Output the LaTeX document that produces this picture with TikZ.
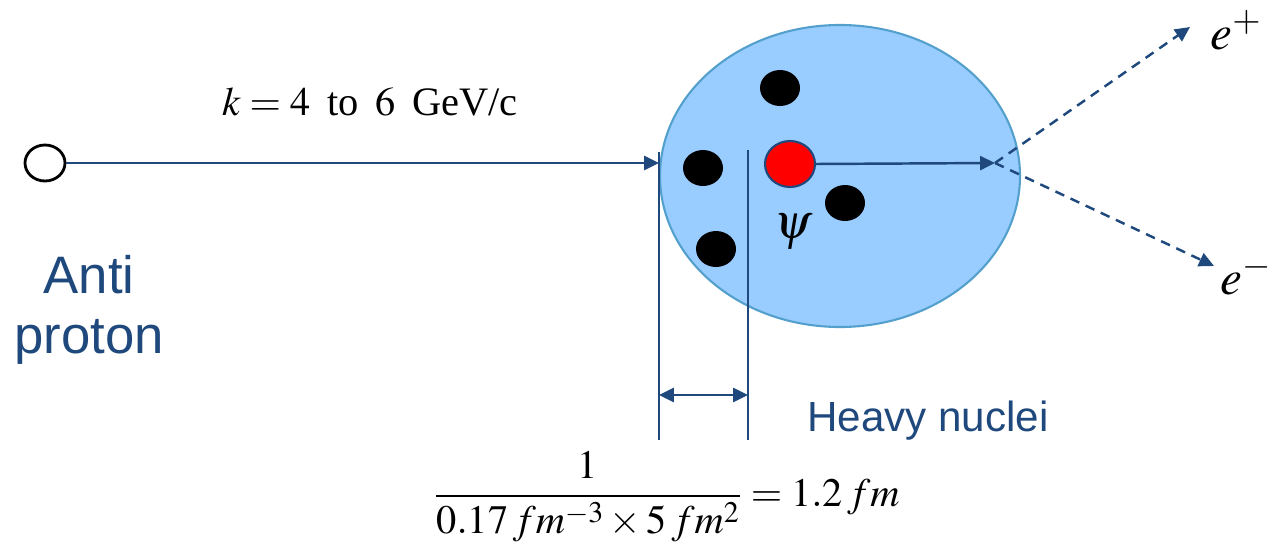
\documentclass[tikz,border=0pt]{standalone}
\usepackage{amsmath}
\usepackage{mathptmx}
\usepackage{fontspec}
\setmainfont{Liberation Serif}
\newfontfamily\labelfont{Liberation Sans}
\usetikzlibrary{arrows.meta,shapes.geometric}

\definecolor{navy}{RGB}{31,73,125}
\definecolor{nucfill}{RGB}{153,204,255}
\definecolor{nucedge}{RGB}{84,160,205}

\begin{document}
\begin{tikzpicture}[
    x=0.02cm, y=-0.02cm,
    dot/.style={ellipse, fill=black, minimum width=40*0.02cm, minimum height=36*0.02cm, inner sep=0pt},
    line/.style={draw=navy, line width=1.4pt},
    arr/.style={line, -{Triangle[length=8.5pt, width=8pt]}},
    dbl/.style={line, {Triangle[length=8.5pt, width=8pt]}-{Triangle[length=8.5pt, width=8pt]}},
    dsh/.style={arr, dash pattern=on 5.5pt off 4pt},
    blue label/.style={text=navy, font=\labelfont\fontsize{30}{34}\selectfont, align=center},
    particle/.style={font=\fontsize{28}{30}\selectfont, inner sep=0pt}
  ]
    \useasboundingbox (0,0) rectangle (1268,551);

    \node[ellipse, draw=nucedge, fill=nucfill, line width=1.2pt,
      minimum width=360*0.02cm, minimum height=302*0.02cm] (nucleus) at (840,176) {};

    \node[dot] (n1) at (780,88) {};
    \node[dot] (n2) at (703,168) {};
    \node[dot] (n3) at (845,203) {};
    \node[dot] (n4) at (716,249) {};
    \node[ellipse, fill=red, draw=navy, line width=1.2pt, inner sep=0pt,
      minimum width=50*0.02cm, minimum height=46*0.02cm] (psi) at (790,164) {};

    \node[ellipse, draw=black, line width=1.6pt, inner sep=0pt,
      minimum width=40*0.02cm, minimum height=36*0.02cm] (pbar) at (45,163) {};

    \coordinate (entry) at (659,163);
    \coordinate (decay) at (995,163);
    \coordinate (upA) at (659,152);
    \coordinate (lowA) at (659,440);
    \coordinate (upB) at (748,150);
    \coordinate (lowB) at (748,440);

    \draw[line] (upA) -- (lowA);
    \draw[line] (upB) -- (lowB);
    \draw[dbl] (659,395) -- (748,395);

    \draw[arr] (pbar.east) -- (entry);
    \draw[arr] (psi.east) -- (decay);
    \draw[dsh] (decay) -- (1190,27);
    \draw[dsh] (decay) -- (1214,266);

    \node[font=\fontsize{23}{27}\selectfont] (mom) at (370,102) {$k = 4$~\,to~\,$6$~\,GeV/c};
    \node[font=\fontsize{28}{30}\selectfont] (psilabel) at (793,232) {$\psi$};
    \node[particle] (ep) at (1236,30) {$e^+$};
    \node[particle] (em) at (1246,275) {$e^-$};

    \node[blue label] (anti) at (89,310) {Anti\\proton};
    \node[blue label, font=\labelfont\fontsize{24}{28}\selectfont] (heavy) at (928,421) {Heavy nuclei};

    \node[font=\fontsize{23}{27}\selectfont] (formula) at (667,497)
      {$\dfrac{1}{0.17\,fm^{-3}\times 5\,fm^{2}} = 1.2\,fm$};
  \end{tikzpicture}
\end{document}
